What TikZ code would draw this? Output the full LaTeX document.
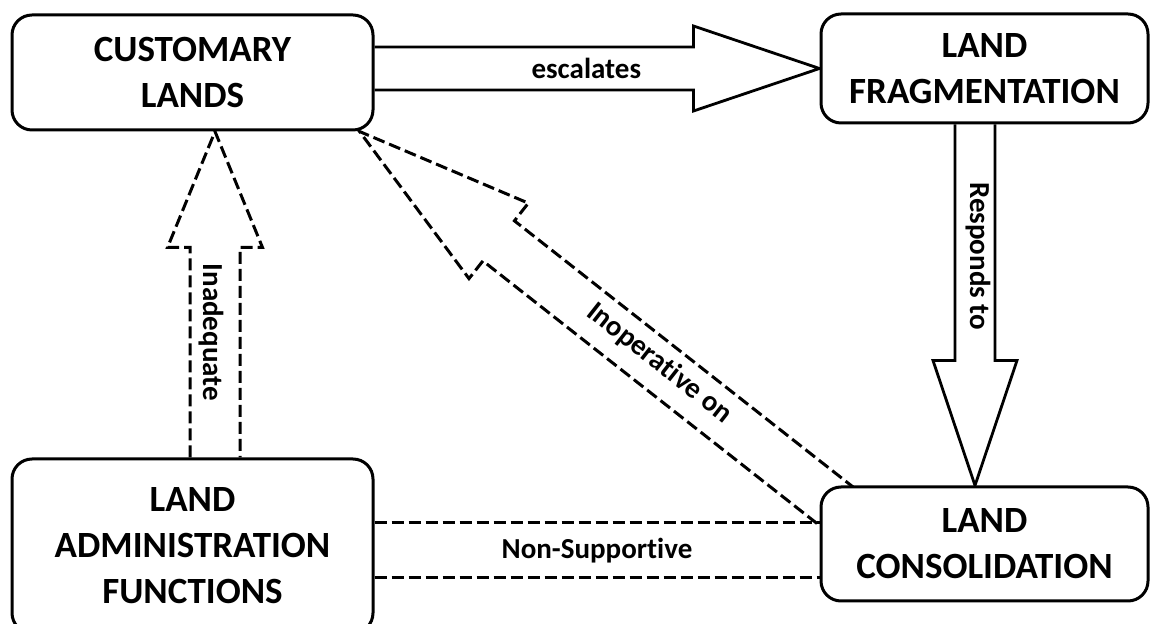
\documentclass[tikz,border=0pt]{standalone}
\usepackage{fontspec}
\setmainfont{Carlito}[Ligatures=NoCommon]
\usetikzlibrary{calc,backgrounds}

% block arrow: [style]{tail}{tip}{shaft half width}{head half width}{head length}
\newcommand{\blockarrow}[6][]{%
  \path ($(#3)!#6!(#2)$) coordinate (ba-base);
  \draw[#1] ($(#2)!#4!90:(#3)$) -- ($(ba-base)!#4!90:(#3)$) -- ($(ba-base)!#5!90:(#3)$)
    -- (#3) -- ($(ba-base)!#5!-90:(#3)$) -- ($(ba-base)!#4!-90:(#3)$) -- ($(#2)!#4!-90:(#3)$);
}

\tikzset{
  box/.style={draw, line width=1.5pt, rounded corners=10pt, fill=white, align=center,
    inner sep=0pt, font=\fontsize{18.5}{23}\selectfont\bfseries},
  lbl/.style={inner sep=0pt, font=\fontsize{14.5}{17}\selectfont\bfseries},
  solidarrow/.style={line width=1.4pt},
  dasharrow/.style={line width=1.5pt, dash pattern=on 6pt off 2.5pt},
}

\begin{document}
\begin{tikzpicture}[x=0.5pt, y=-0.5pt]
    \useasboundingbox (0,0) rectangle (1151,624);
    \clip (0,0) rectangle (1151,624);
    % boxes
    \node[box, minimum width=180.5pt, minimum height=57.5pt] (cust) at (192.5,72.5) {CUSTOMARY\\LANDS};
    \node[box, minimum width=163.5pt, minimum height=54.5pt] (frag) at (984.5,68.5) {LAND\\FRAGMENTATION};
    \node[box, minimum width=180.5pt, minimum height=87pt] (admin) at (192.5,546) {LAND\\ADMINISTRATION\\FUNCTIONS};
    \node[box, minimum width=163.5pt, minimum height=57pt] (cons) at (984.5,544) {LAND\\CONSOLIDATION};
    % arrow ends
    \coordinate (esc-tail) at (cust.east |- frag.west);
    \coordinate (esc-tip) at (frag.west);
    \coordinate (resp-tail) at ($(frag.south)+(-9.5,0)$);
    \coordinate (resp-tip) at ($(cons.north)+(-9.5,0)$);
    \coordinate (inad-tail) at ($(admin.north)+(22.5,0)$);
    \coordinate (inad-tip) at ($(cust.south)+(22.5,0)$);
    \coordinate (inop-tail) at ($(cons.north west)+(40,39)$);
    \coordinate (inop-tip) at ($(cust.south east)+(-15,0)$);
    \coordinate (ns-top-a) at ($(admin.east)+(0,-23)$);
    \coordinate (ns-top-b) at (cons.west |- ns-top-a);
    \coordinate (ns-bot-a) at ($(admin.east)+(0,32)$);
    \coordinate (ns-bot-b) at (cons.west |- ns-bot-a);
    \begin{pgfonlayer}{background}
        % solid arrows
        \blockarrow[solidarrow]{esc-tail}{esc-tip}{10.75pt}{21.25pt}{63pt}
        \blockarrow[solidarrow]{resp-tail}{resp-tip}{10pt}{21pt}{62.5pt}
        % dashed arrows
        \blockarrow[dasharrow]{inad-tail}{inad-tip}{12.5pt}{23.75pt}{58pt}
        \blockarrow[dasharrow]{inop-tail}{inop-tip}{12.75pt}{24pt}{88.5pt}
        % dashed band
        \draw[dasharrow] (ns-top-a) -- (ns-top-b);
        \draw[dasharrow] (ns-bot-a) -- (ns-bot-b);
    \end{pgfonlayer}
    % labels
    \node[lbl] (esc-lbl) at ($(esc-tail)!0.476!(esc-tip)$) {escalates};
    \node[lbl, rotate=-90] (resp-lbl) at ($(resp-tail)!0.365!(resp-tip)+(3,0)$) {Responds to};
    \node[lbl, rotate=-90] (inad-lbl) at ($(inad-tail)!0.384!(inad-tip)+(-4,0)$) {Inadequate};
    \node[lbl, rotate=-38.2] (inop-lbl) at ($(inop-tail)!0.40!(inop-tip)+(0,-4)$) {Inoperative on};
    \node[lbl] (ns-lbl) at ($(ns-top-a)!0.5!(ns-bot-b)$) {Non-Supportive};
\end{tikzpicture}
\end{document}
